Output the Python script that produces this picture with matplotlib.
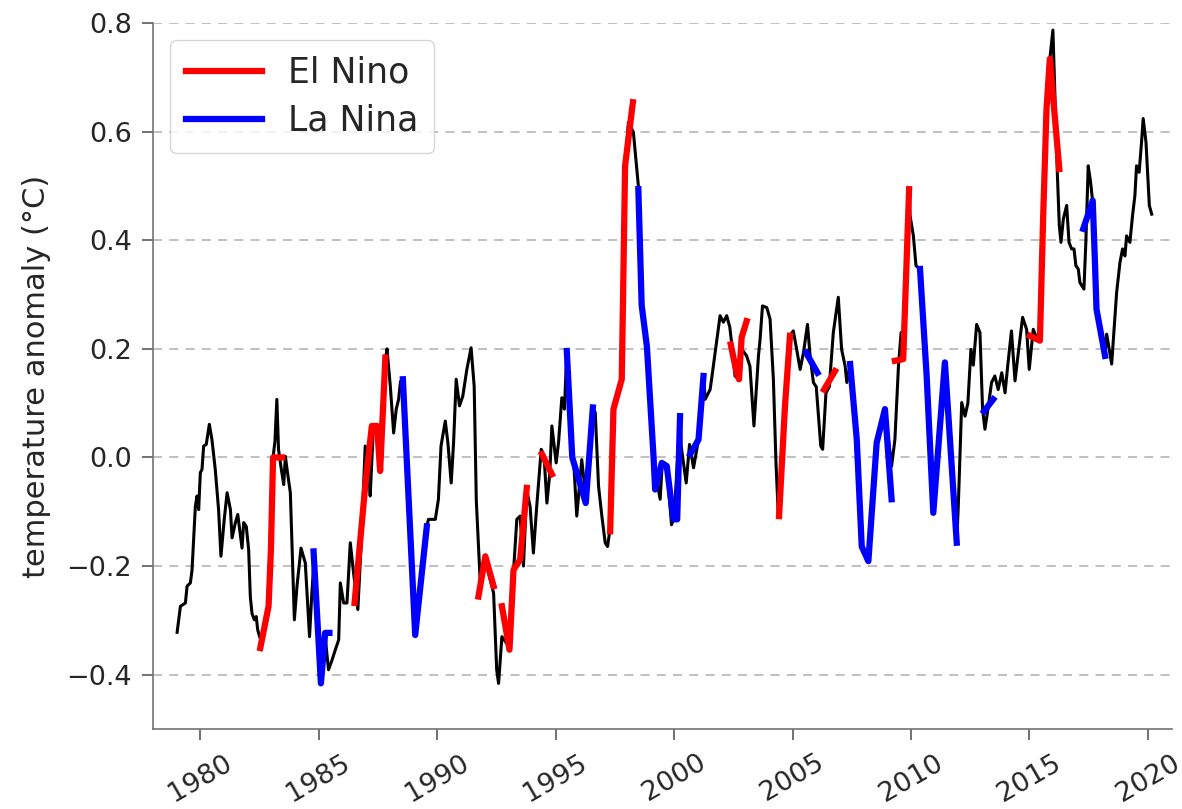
import numpy as np
import matplotlib.pyplot as plt

nan = np.nan

# monthly-ish temperature anomaly (decimal year, deg C)
years = [1979.02, 1979.16, 1979.37, 1979.44, 1979.58, 1979.65, 1979.79, 1979.86, 1979.93,
         1980.00, 1980.07, 1980.14, 1980.25, 1980.38, 1980.49, 1980.63, 1980.77, 1980.87,
         1981.01, 1981.13, 1981.27, 1981.34, 1981.48, 1981.58, 1981.66, 1981.76, 1981.83,
         1981.94, 1982.04, 1982.11, 1982.18, 1982.28, 1982.36, 1982.42, 1982.50, 1982.60,
         1982.88, 1982.98, 1983.07, 1983.15, 1983.23, 1983.30, 1983.42, 1983.52, 1983.59,
         1983.68, 1983.80, 1983.97, 1984.08, 1984.25, 1984.43, 1984.61, 1984.70, 1984.78,
         1985.09, 1985.27, 1985.41, 1985.56, 1985.70, 1985.84, 1985.91, 1986.05, 1986.19,
         1986.33, 1986.47, 1986.65, 1986.80, 1986.96, 1987.10, 1987.17, 1987.30, 1987.50,
         1987.59, 1987.81, 1987.88, 1988.02, 1988.16, 1988.27, 1988.37, 1988.45, 1988.55,
         1989.07, 1989.56, 1989.63, 1989.92, 1990.05, 1990.16, 1990.34, 1990.45, 1990.59,
         1990.69, 1990.80, 1990.94, 1991.08, 1991.25, 1991.43, 1991.56, 1991.65, 1991.81,
         1992.03, 1992.38, 1992.51, 1992.59, 1992.73, 1993.05, 1993.22, 1993.36, 1993.50,
         1993.64, 1993.78, 1993.92, 1994.06, 1994.20, 1994.39, 1994.51, 1994.63, 1994.75,
         1994.84, 1995.02, 1995.12, 1995.26, 1995.37, 1995.47, 1995.60, 1995.75, 1995.89,
         1996.10, 1996.29, 1996.57, 1996.67, 1996.81, 1996.95, 1997.09, 1997.19, 1997.30,
         1997.44, 1997.79, 1997.93, 1998.07, 1998.28, 1998.49, 1998.63, 1998.85, 1999.20,
         1999.30, 1999.41, 1999.50, 1999.69, 1999.89, 2000.00, 2000.25, 2000.30, 2000.51,
         2000.65, 2000.82, 2001.03, 2001.24, 2001.31, 2001.52, 2001.59, 2001.73, 2001.94,
         2002.08, 2002.22, 2002.35, 2002.49, 2002.57, 2002.74, 2002.85, 2003.06, 2003.20,
         2003.37, 2003.56, 2003.63, 2003.73, 2003.91, 2004.05, 2004.19, 2004.30, 2004.40,
         2004.68, 2004.89, 2005.03, 2005.17, 2005.32, 2005.46, 2005.63, 2005.74, 2005.88,
         2006.00, 2006.19, 2006.27, 2006.41, 2006.55, 2006.72, 2006.93, 2007.07, 2007.22,
         2007.29, 2007.43, 2007.71, 2007.92, 2008.20, 2008.55, 2008.90, 2009.18, 2009.32,
         2009.47, 2009.58, 2009.67, 2009.92, 2009.96, 2010.10, 2010.21, 2010.38, 2010.66,
         2010.94, 2011.11, 2011.43, 2011.93, 2012.00, 2012.14, 2012.28, 2012.40, 2012.53,
         2012.63, 2012.77, 2012.91, 2013.02, 2013.12, 2013.25, 2013.40, 2013.54, 2013.68,
         2013.83, 2013.97, 2014.08, 2014.24, 2014.39, 2014.53, 2014.71, 2014.88, 2014.99,
         2015.16, 2015.30, 2015.44, 2015.58, 2015.72, 2015.86, 2015.99, 2016.17, 2016.26,
         2016.33, 2016.43, 2016.57, 2016.67, 2016.78, 2016.88, 2016.96, 2017.06, 2017.13,
         2017.30, 2017.38, 2017.48, 2017.58, 2017.67, 2017.76, 2017.83, 2018.19, 2018.26,
         2018.47, 2018.57, 2018.68, 2018.82, 2018.93, 2019.03, 2019.10, 2019.24, 2019.35,
         2019.45, 2019.52, 2019.63, 2019.73, 2019.80, 2019.92, 2020.06, 2020.16]
anomaly = [-0.322, -0.274, -0.268, -0.237, -0.231, -0.207, -0.090, -0.071, -0.096,
           -0.028, -0.022, 0.021, 0.024, 0.061, 0.033, -0.022, -0.096, -0.182,
           -0.114, -0.065, -0.096, -0.148, -0.120, -0.105, -0.133, -0.167, -0.120,
           -0.127, -0.170, -0.256, -0.287, -0.299, -0.293, -0.317, -0.330, -0.340,
           -0.270, -0.170, 0.000, 0.030, 0.107, 0.015, -0.022, -0.050, 0.002,
           -0.028, -0.065, -0.299, -0.237, -0.167, -0.194, -0.330, -0.256, -0.200,
           -0.410, -0.330, -0.391, -0.373, -0.354, -0.336, -0.231, -0.268, -0.268,
           -0.157, -0.213, -0.280, -0.150, 0.021, -0.020, -0.071, 0.050, 0.050,
           -0.020, 0.180, 0.200, 0.131, 0.045, 0.089, 0.107, 0.140, 0.140,
           -0.327, -0.127, -0.114, -0.114, -0.077, 0.021, 0.067, 0.027, -0.047,
           0.027, 0.144, 0.095, 0.113, 0.162, 0.202, 0.131, -0.080, -0.225,
           -0.190, -0.250, -0.391, -0.416, -0.330, -0.350, -0.210, -0.114, -0.108,
           -0.200, -0.060, -0.090, -0.176, -0.090, 0.015, 0.002, -0.084, -0.030,
           0.058, -0.010, 0.027, 0.110, 0.089, 0.196, 0.050, 0.000, -0.108,
           -0.004, -0.080, 0.090, 0.083, -0.053, -0.108, -0.157, -0.164, -0.130,
           0.089, 0.144, 0.537, 0.617, 0.599, 0.500, 0.279, 0.205, -0.059,
           -0.050, -0.077, -0.010, -0.016, -0.124, -0.110, 0.076, 0.020, -0.047,
           0.024, -0.019, 0.033, 0.150, 0.107, 0.125, 0.147, 0.193, 0.261,
           0.249, 0.261, 0.240, 0.187, 0.150, 0.144, 0.200, 0.187, 0.168,
           0.058, 0.187, 0.218, 0.279, 0.276, 0.255, 0.144, -0.010, -0.108,
           0.095, 0.224, 0.233, 0.200, 0.162, 0.193, 0.245, 0.187, 0.138,
           0.130, 0.021, 0.015, 0.119, 0.130, 0.230, 0.295, 0.199, 0.168,
           0.138, 0.170, 0.033, -0.164, -0.191, 0.027, 0.089, -0.016, 0.033,
           0.168, 0.230, 0.180, 0.490, 0.445, 0.408, 0.353, 0.347, 0.175,
           -0.102, -0.016, 0.175, -0.157, -0.084, 0.101, 0.076, 0.100, 0.199,
           0.170, 0.245, 0.230, 0.089, 0.052, 0.090, 0.138, 0.150, 0.125,
           0.156, 0.119, 0.168, 0.233, 0.141, 0.193, 0.258, 0.236, 0.162,
           0.236, 0.220, 0.215, 0.445, 0.642, 0.734, 0.787, 0.531, 0.427,
           0.396, 0.439, 0.464, 0.396, 0.384, 0.384, 0.353, 0.347, 0.322,
           0.310, 0.396, 0.537, 0.507, 0.470, 0.365, 0.273, 0.187, 0.227,
           0.172, 0.236, 0.304, 0.359, 0.384, 0.371, 0.408, 0.396, 0.445,
           0.482, 0.537, 0.525, 0.580, 0.624, 0.580, 0.464, 0.448]

# El Nino episodes (nan separates episodes)
nino_t = [1982.53, 1982.88, 1982.98, 1983.07, 1983.45, nan,
          1986.51, 1986.96, 1987.24, 1987.46, 1987.59, 1987.81, nan,
          1991.74, 1992.03, 1992.38, nan,
          1992.73, 1993.05, 1993.22, 1993.50, 1993.78, nan,
          1994.42, 1994.84, nan,
          1997.30, 1997.44, 1997.79, 1997.93, 1998.26, nan,
          2002.39, 2002.64, 2002.74, 2002.85, 2003.06, nan,
          2004.43, 2004.68, 2004.89, nan,
          2006.33, 2006.79, nan,
          2009.32, 2009.67, 2009.92, nan,
          2015.02, 2015.44, 2015.58, 2015.72, 2015.86, 2016.26]
nino_v = [-0.351, -0.274, -0.170, 0.000, 0.000, nan,
          -0.268, -0.053, 0.058, 0.058, -0.025, 0.184, nan,
          -0.256, -0.182, -0.237, nan,
          -0.274, -0.354, -0.207, -0.188, -0.056, nan,
          0.006, -0.031, nan,
          -0.136, 0.089, 0.144, 0.537, 0.654, nan,
          0.208, 0.156, 0.144, 0.221, 0.251, nan,
          -0.108, 0.095, 0.224, nan,
          0.125, 0.159, nan,
          0.178, 0.181, 0.494, nan,
          0.224, 0.215, 0.445, 0.642, 0.734, 0.531]

# La Nina episodes
nina_t = [1984.78, 1985.09, 1985.27, 1985.45, nan,
          1988.55, 1989.07, 1989.56, nan,
          1995.47, 1995.70, 1996.27, 1996.57, nan,
          1998.49, 1998.63, 1998.85, 1999.13, 1999.20, 1999.48, 1999.69, 1999.97, 2000.13, 2000.25, nan,
          2000.68, 2001.03, 2001.24, nan,
          2005.57, 2006.05, nan,
          2007.43, 2007.71, 2007.92, 2008.20, 2008.55, 2008.90, 2009.18, nan,
          2010.38, 2010.66, 2010.94, 2011.43, 2011.93, nan,
          2013.08, 2013.47, nan,
          2017.27, 2017.67, 2017.76, 2017.83, 2018.19]
nina_v = [-0.173, -0.416, -0.323, -0.323, nan,
          0.144, -0.327, -0.127, nan,
          0.196, 0.000, -0.084, 0.092, nan,
          0.494, 0.280, 0.205, 0.002, -0.059, -0.010, -0.016, -0.114, -0.114, 0.076, nan,
          0.006, 0.033, 0.150, nan,
          0.193, 0.156, nan,
          0.172, 0.033, -0.164, -0.191, 0.027, 0.089, -0.077, nan,
          0.347, 0.150, -0.102, 0.175, -0.157, nan,
          0.085, 0.107, nan,
          0.421, 0.473, 0.365, 0.273, 0.187]

xticks = [1980, 1985, 1990, 1995, 2000, 2005, 2010, 2015, 2020]
yticks = [-0.4, -0.2, 0.0, 0.2, 0.4, 0.6, 0.8]

txt = '0.15'

fig = plt.figure(figsize=(11.82, 8.09), dpi=100)
ax = fig.add_axes([0.1294, 0.0989, 0.8618, 0.8727])

ax.plot(years, anomaly, color='k', lw=2.2)
ax.plot(nino_t, nino_v, color='red', lw=4.5, label='El Nino')
ax.plot(nina_t, nina_v, color='blue', lw=4.5, label='La Nina')

ax.set_xlim(1978.0, 2021.0)
ax.set_ylim(-0.5, 0.8)
ax.set_xticks(xticks)
ax.set_xticklabels([str(x) for x in xticks], rotation=30)
ax.set_yticks(yticks)
ax.set_yticklabels(['\u22120.4', '\u22120.2', '0.0', '0.2', '0.4', '0.6', '0.8'])
ax.tick_params(labelsize=19.5, length=8, width=1.2, color='0.35', labelcolor=txt, pad=7)
ax.set_ylabel('temperature anomaly (\u00b0C)', fontsize=22, color=txt)
ax.yaxis.set_label_coords(-0.1, 0.5)

ax.yaxis.grid(True, linestyle='--', color='#bbbbbb', lw=1.3, dashes=(5, 4))
ax.set_axisbelow(True)
for s in ['top', 'right']:
    ax.spines[s].set_visible(False)
for s in ['left', 'bottom']:
    ax.spines[s].set_color('0.45')
    ax.spines[s].set_linewidth(1.2)

leg = ax.legend(loc='upper left', fontsize=25, handlelength=2.2, borderpad=0.45,
                labelspacing=0.4, handletextpad=0.75)
for t in leg.get_texts():
    t.set_color(txt)

fig.savefig('out.png', dpi=100)
